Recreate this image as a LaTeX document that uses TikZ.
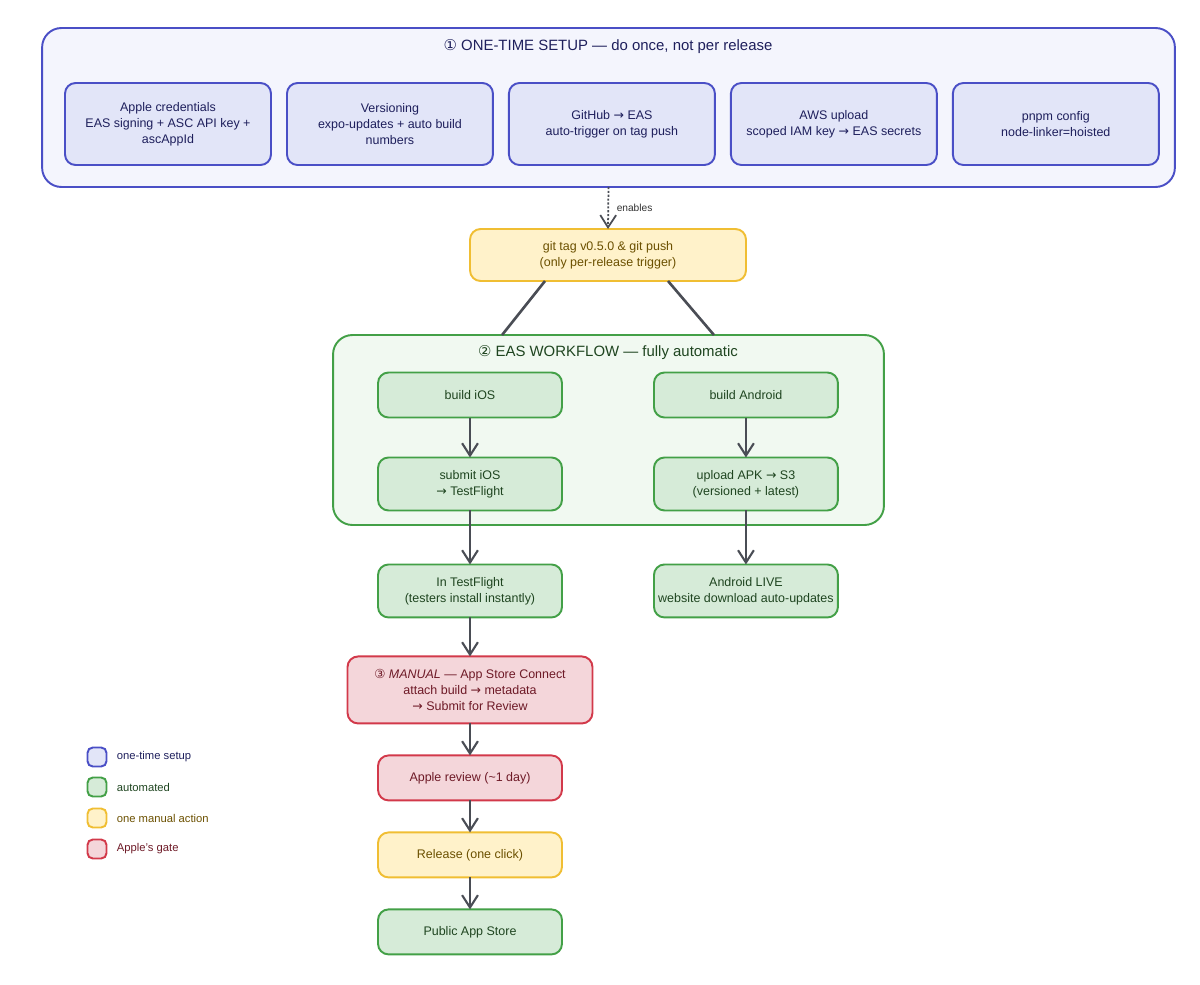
\documentclass[tikz,border=0pt]{standalone}
\usepackage{fontspec}
\setmainfont{Liberation Sans}
\newfontfamily\symfont{DejaVu Sans}
\usetikzlibrary{arrows.meta, positioning, calc, backgrounds}

\definecolor{setupline}{HTML}{4A4FC6}
\definecolor{setupfill}{HTML}{E2E5F8}
\definecolor{setupbg}{HTML}{F4F5FD}
\definecolor{setuptext}{HTML}{1E1F5C}
\definecolor{autoline}{HTML}{43A047}
\definecolor{autofill}{HTML}{D6EBD8}
\definecolor{autobg}{HTML}{F1F9F1}
\definecolor{autotext}{HTML}{1F4520}
\definecolor{manline}{HTML}{F0BE33}
\definecolor{manfill}{HTML}{FFF2CA}
\definecolor{mantext}{HTML}{6B5000}
\definecolor{gateline}{HTML}{D2394A}
\definecolor{gatefill}{HTML}{F4D6DA}
\definecolor{gatetext}{HTML}{6E1A27}
\definecolor{arrowgray}{HTML}{4A4D55}

\newcommand{\rarr}{{\symfont →}}
\newcommand{\circnum}[1]{{\symfont #1}}

\begin{document}
\begin{tikzpicture}[
    x=0.02cm, y=-0.02cm,
    node distance=0.64cm and 1.84cm,
    box/.style={rectangle, draw, rounded corners=6pt, line width=1.1pt, outer sep=0pt, align=center, inner sep=2pt, font=\fontsize{7.1}{9}\selectfont},
    setup/.style={box, fill=setupfill, draw=setupline, text=setuptext, minimum width=4.12cm, minimum height=1.64cm},
    autobox/.style={box, fill=autofill, draw=autoline, text=autotext, minimum width=3.68cm, minimum height=0.9cm},
    manual/.style={box, fill=manfill, draw=manline, text=mantext, minimum width=3.68cm, minimum height=0.9cm},
    gate/.style={box, fill=gatefill, draw=gateline, text=gatetext, minimum width=3.68cm, minimum height=0.9cm},
    group/.style={rectangle, draw, rounded corners=11pt, line width=1.1pt, outer sep=0pt},
    title/.style={font=\fontsize{8.5}{10}\selectfont},
    arrow/.style={-{Straight Barb[length=7pt, width=9pt]}, line width=1.2pt, draw=arrowgray},
    link/.style={line width=1.5pt, draw=arrowgray},
    lbl/.style={font=\fontsize{5.8}{7}\selectfont, text=black!80},
    legbox/.style={rectangle, draw, rounded corners=3pt, line width=1.1pt, outer sep=0pt, minimum size=0.38cm, inner sep=0pt},
    legtext/.style={font=\fontsize{6.4}{7}\selectfont, inner sep=0pt}
  ]
  \useasboundingbox (0,0) rectangle (1200,984);

  % one-time setup
  \node[group, fill=setupbg, draw=setupline, minimum width=22.66cm, minimum height=3.18cm] (setup) at (608.5,107.5) {};
  \node[title, text=setuptext] (setuptitle) at (608,47) {\circnum{①} ONE-TIME SETUP — do once, not per release};
  \node[setup] (creds) at (168,124) {Apple credentials\\EAS signing + ASC API key +\\ascAppId};
  \node[setup, right=0.32cm of creds] (version) {Versioning\\expo-updates + auto build\\numbers};
  \node[setup, right=0.32cm of version] (github) {GitHub \rarr{} EAS\\auto-trigger on tag push};
  \node[setup, right=0.32cm of github] (aws) {AWS upload\\scoped IAM key \rarr{} EAS secrets};
  \node[setup, right=0.32cm of aws] (pnpm) {pnpm config\\node-linker=hoisted};

  % the trigger
  \node[manual, minimum width=5.52cm, minimum height=1.04cm] (tag) at (608,255) {git tag v0.5.0 \& git push\\(only per-release trigger)};
  \draw[arrow, densely dotted, line width=1pt] (setup.south) -- node[right, lbl, xshift=1pt] {enables} (tag.north);

  % workflow
  \node[group, fill=autobg, draw=autoline, minimum width=11.02cm, minimum height=3.8cm] (flow) at (608.5,430) {};
  \node[title, text=autotext] (flowtitle) at (608,353) {\circnum{②} EAS WORKFLOW — fully automatic};
  \draw[link] ([xshift=-1.26cm]tag.south) -- ([xshift=-2.13cm]flow.north);
  \draw[link] ([xshift=1.2cm]tag.south) -- ([xshift=2.11cm]flow.north);

  \node[autobox] (buildios) at (470,395) {build iOS};
  \node[autobox, right=1.84cm of buildios] (buildand) {build Android};
  \node[autobox, minimum height=1.06cm, below=0.8cm of buildios] (submitios) {submit iOS\\\rarr{} TestFlight};
  \node[autobox, minimum height=1.06cm, below=0.8cm of buildand] (upload) {upload APK \rarr{} S3\\(versioned + latest)};

  % after the workflow
  \node[autobox, minimum height=1.06cm, below=1.08cm of submitios] (testflight) {In TestFlight\\(testers install instantly)};
  \node[autobox, minimum height=1.06cm, below=1.08cm of upload] (live) {};
  \begin{scope}
    \clip ([xshift=1pt]live.south west) rectangle ([xshift=-1pt]live.north east);
    \node[font=\fontsize{7.1}{9}\selectfont, text=autotext, align=center] (livetext) at (live) {Android LIVE\\website download auto-updates};
  \end{scope}

  \node[gate, minimum width=4.9cm, minimum height=1.34cm, below=0.78cm of testflight] (connect) {\circnum{③} \textit{MANUAL} — App Store Connect\\attach build \rarr{} metadata\\\rarr{} Submit for Review};
  \node[gate, below=0.64cm of connect] (review) {Apple review (\textasciitilde1 day)};
  \node[manual, below=0.64cm of review] (release) {Release (one click)};
  \node[autobox, below=0.64cm of release] (store) {Public App Store};

  \draw[arrow] (buildios) -- (submitios);
  \draw[arrow] (buildand) -- (upload);
  \draw[arrow] (submitios) -- (testflight);
  \draw[arrow] (upload) -- (live);
  \draw[arrow] (testflight) -- (connect);
  \draw[arrow] (connect) -- (review);
  \draw[arrow] (review) -- (release);
  \draw[arrow] (release) -- (store);

  % legend
  \node[legbox, fill=setupfill, draw=setupline] (keysetup) at (97,757) {};
  \node[legbox, fill=autofill, draw=autoline] (keyauto) at (97,787) {};
  \node[legbox, fill=manfill, draw=manline] (keyman) at (97,818) {};
  \node[legbox, fill=gatefill, draw=gateline] (keygate) at (97,849) {};
  \node[legtext, right=0.2cm of keysetup, text=setuptext] (lsetup) {one-time setup};
  \node[legtext, right=0.2cm of keyauto, text=autotext] (lauto) {automated};
  \node[legtext, right=0.2cm of keyman, text=mantext] (lman) {one manual action};
  \node[legtext, right=0.2cm of keygate, text=gatetext] (lgate) {Apple's gate};
\end{tikzpicture}
\end{document}
